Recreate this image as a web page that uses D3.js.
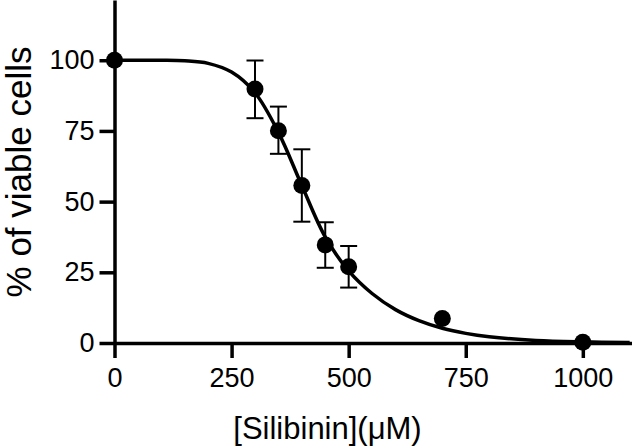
<!DOCTYPE html>
<html>
<head>
<meta charset="utf-8">
<script src="https://cdn.jsdelivr.net/npm/d3@7"></script>
<style>
	body { margin: 0; background: #fff; }
	svg { display: block; font-family: "Liberation Sans", Arial, sans-serif; }
</style>
</head>
<body>
<svg id="chart" width="632" height="446"></svg>
<script>
// measured points (mean and error bar ends)
var dose  = [0, 300, 350, 400, 450, 500, 700, 1000];
var viable = [100, 89.8, 75.1, 55.7, 34.7, 27.0, 8.7, 0.3];
var errLow  = [null, 79.5, 66.9, 42.9, 26.6, 19.6, null, null];
var errHigh = [null, 99.9, 83.6, 68.5, 42.7, 34.3, null, null];

// fitted curve
var fitDose  = [0, 100, 150, 200, 250, 300, 350, 400, 450, 500, 550, 600, 650, 700, 750, 800, 900, 1000, 1100];
var fitValue = [100, 100, 99.8, 98.9, 95.8, 88.5, 74.5, 55.7, 37.5, 25.5, 17.5, 11.8, 7.9, 5.2, 3.4, 2.2, 0.9, 0.4, 0.2];

var xTicks = [0, 250, 500, 750, 1000];
var yTicks = [0, 25, 50, 75, 100];

var svg = d3.select("#chart");

var x = d3.scaleLinear().domain([0, 1105]).range([114.5, 632]);
var y = d3.scaleLinear().domain([0, 121.3]).range([343, 0]);

// axes
var xAxis = svg.append("g")
	.attr("transform", "translate(0," + y(0) + ")")
	.call(d3.axisBottom(x).tickValues(xTicks).tickFormat(d3.format("d"))
		.tickSize(15).tickSizeOuter(0).tickPadding(10));

var yAxis = svg.append("g")
	.attr("transform", "translate(" + x(0) + ",0)")
	.call(d3.axisLeft(y).tickValues(yTicks).tickFormat(d3.format("d"))
		.tickSize(15).tickSizeOuter(0).tickPadding(5));

[xAxis, yAxis].forEach(function (g) {
	g.selectAll("path.domain, line").attr("stroke", "#000").attr("stroke-width", 3.5);
	g.selectAll("text").attr("fill", "#000").style("font-size", "27px");
});

// curve
var line = d3.line()
	.x(function (d, i) { return x(fitDose[i]); })
	.y(function (d) { return y(d); })
	.curve(d3.curveCatmullRom.alpha(0.5));

svg.append("path")
	.datum(fitValue)
	.attr("fill", "none")
	.attr("stroke", "#000")
	.attr("stroke-width", 3.5)
	.attr("d", line);

// error bars
var bars = svg.append("g")
	.attr("stroke", "#000")
	.attr("stroke-width", 2);

dose.forEach(function (d, i) {
	if (errLow[i] == null) return;
	var cx = x(d);
	bars.append("line")
		.attr("x1", cx).attr("x2", cx)
		.attr("y1", y(errLow[i])).attr("y2", y(errHigh[i]));
	[errLow[i], errHigh[i]].forEach(function (v) {
		bars.append("line")
			.attr("x1", cx - 8.5).attr("x2", cx + 8.5)
			.attr("y1", y(v)).attr("y2", y(v));
	});
});

// markers
svg.append("g")
	.selectAll("circle")
	.data(dose)
	.enter().append("circle")
	.attr("cx", function (d) { return x(d); })
	.attr("cy", function (d, i) { return y(viable[i]); })
	.attr("r", 8.5)
	.attr("fill", "#000");

// titles
svg.append("text")
	.attr("x", 327.5)
	.attr("y", 439)
	.attr("text-anchor", "middle")
	.style("font-size", "31px")
	.text("[Silibinin](μM)");

svg.append("text")
	.attr("transform", "translate(31,172) rotate(-90)")
	.attr("text-anchor", "middle")
	.style("font-size", "35px")
	.text("% of viable cells");
</script>
</body>
</html>
